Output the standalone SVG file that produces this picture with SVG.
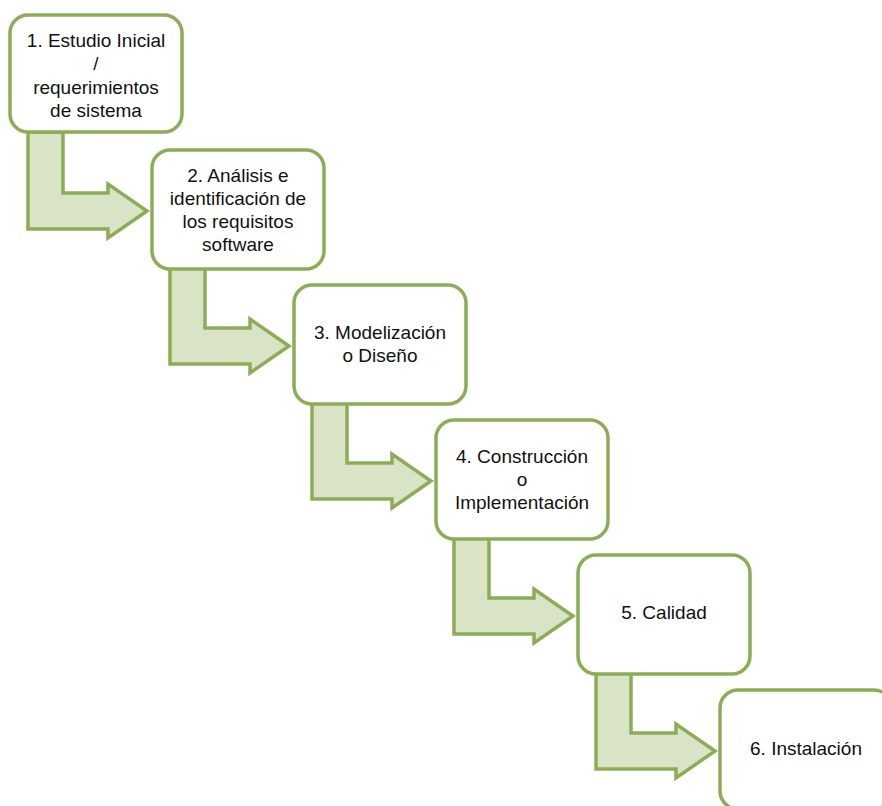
<svg xmlns="http://www.w3.org/2000/svg" width="882" height="806" viewBox="0 0 882 806">
  <defs>
    <style>
      .box { fill: #ffffff; stroke: #8cad55; stroke-width: 3.5; }
      .arrow { fill: #d9e4c6; stroke: #8cad55; stroke-width: 3.5; stroke-linejoin: miter; }
      .label { font-family: "Liberation Sans", Arial, sans-serif; font-size: 19px; fill: #111111; text-anchor: middle; }
    </style>
    <!-- bent arrow: down out of one step, then right into the next -->
    <path id="bent" d="M28,132 H63 V193 H108 V184 L147,211 L108,238 V229 H28 Z"/>
  </defs>
  <rect width="882" height="806" fill="#ffffff"/>

  <g id="connectors">
    <use href="#bent" class="arrow"/>
    <use href="#bent" class="arrow" transform="translate(142,135)"/>
    <use href="#bent" class="arrow" transform="translate(284,270)"/>
    <use href="#bent" class="arrow" transform="translate(426,405)"/>
    <use href="#bent" class="arrow" transform="translate(568,540)"/>
  </g>

  <g id="step1">
    <rect class="box" x="10" y="15" width="172" height="117" rx="18"/>
    <text class="label" x="96" y="47">1. Estudio Inicial</text>
    <text class="label" x="96" y="70">/</text>
    <text class="label" x="96" y="94">requerimientos</text>
    <text class="label" x="96" y="117">de sistema</text>
  </g>

  <g id="step2">
    <rect class="box" x="152" y="150" width="172" height="119" rx="18"/>
    <text class="label" x="238" y="182">2. Análisis e</text>
    <text class="label" x="238" y="205">identificación de</text>
    <text class="label" x="238" y="228">los requisitos</text>
    <text class="label" x="238" y="251">software</text>
  </g>

  <g id="step3">
    <rect class="box" x="294" y="285" width="172" height="119" rx="18"/>
    <text class="label" x="380" y="339">3. Modelización</text>
    <text class="label" x="380" y="362">o Diseño</text>
  </g>

  <g id="step4">
    <rect class="box" x="436" y="420" width="172" height="119" rx="18"/>
    <text class="label" x="522" y="463">4. Construcción</text>
    <text class="label" x="522" y="486">o</text>
    <text class="label" x="522" y="509">Implementación</text>
  </g>

  <g id="step5">
    <rect class="box" x="578" y="555" width="172" height="119" rx="18"/>
    <text class="label" x="664" y="619">5. Calidad</text>
  </g>

  <g id="step6">
    <rect class="box" x="720" y="690" width="172" height="119" rx="18"/>
    <text class="label" x="806" y="755">6. Instalación</text>
  </g>
</svg>
